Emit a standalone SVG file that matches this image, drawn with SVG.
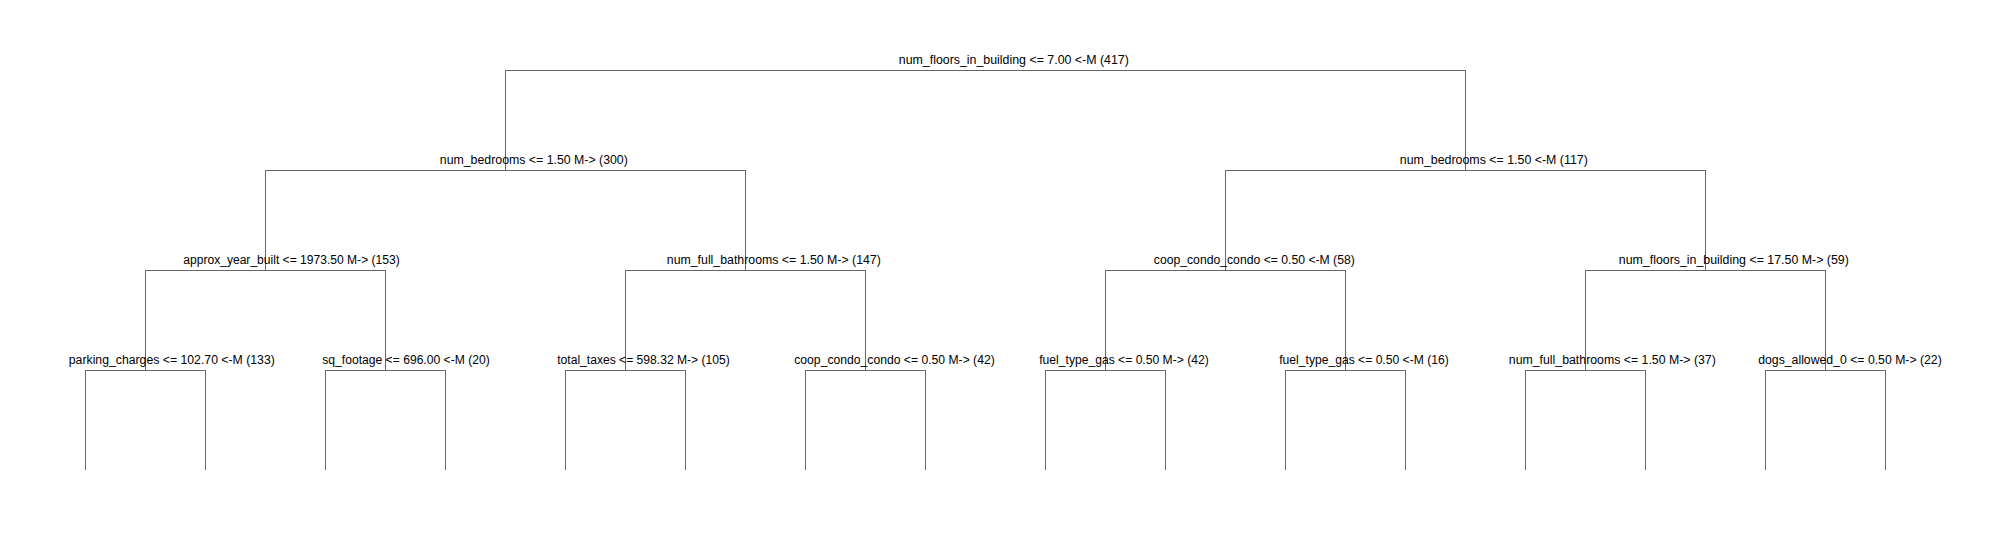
<svg xmlns="http://www.w3.org/2000/svg" width="2010" height="540" viewBox="0 0 2010 540">
<style>
.e{fill:none;stroke:#666666;stroke-width:1;shape-rendering:crispEdges}
.t{font-family:"Liberation Sans",Arial,sans-serif;font-size:12.3px;fill:#000000;text-anchor:middle}
</style>
<rect width="2010" height="540" fill="#ffffff"/>
<g id="connectors">
<path class="e" d="M505.5 170.5V70.5H1465.5V170.5"/>
<path class="e" d="M265.5 270.5V170.5H745.5V270.5"/>
<path class="e" d="M1225.5 270.5V170.5H1705.5V270.5"/>
<path class="e" d="M145.5 370.5V270.5H385.5V370.5"/>
<path class="e" d="M625.5 370.5V270.5H865.5V370.5"/>
<path class="e" d="M1105.5 370.5V270.5H1345.5V370.5"/>
<path class="e" d="M1585.5 370.5V270.5H1825.5V370.5"/>
<path class="e" d="M85.5 470V370.5H205.5V470"/>
<path class="e" d="M325.5 470V370.5H445.5V470"/>
<path class="e" d="M565.5 470V370.5H685.5V470"/>
<path class="e" d="M805.5 470V370.5H925.5V470"/>
<path class="e" d="M1045.5 470V370.5H1165.5V470"/>
<path class="e" d="M1285.5 470V370.5H1405.5V470"/>
<path class="e" d="M1525.5 470V370.5H1645.5V470"/>
<path class="e" d="M1765.5 470V370.5H1885.5V470"/>
</g>
<g id="n_root"><text class="t" x="1013.8" y="64" textLength="230" lengthAdjust="spacingAndGlyphs">num_floors_in_building &lt;= 7.00 &lt;-M (417)</text></g>
<g id="n_l"><text class="t" x="533.8" y="164" textLength="188" lengthAdjust="spacingAndGlyphs">num_bedrooms &lt;= 1.50 M-&gt; (300)</text></g>
<g id="n_r"><text class="t" x="1493.8" y="164" textLength="188" lengthAdjust="spacingAndGlyphs">num_bedrooms &lt;= 1.50 &lt;-M (117)</text></g>
<g id="n_ll"><text class="t" x="291.5" y="264" textLength="216.5" lengthAdjust="spacingAndGlyphs">approx_year_built &lt;= 1973.50 M-&gt; (153)</text></g>
<g id="n_lr"><text class="t" x="773.8" y="264" textLength="214" lengthAdjust="spacingAndGlyphs">num_full_bathrooms &lt;= 1.50 M-&gt; (147)</text></g>
<g id="n_rl"><text class="t" x="1254.3" y="264" textLength="201" lengthAdjust="spacingAndGlyphs">coop_condo_condo &lt;= 0.50 &lt;-M (58)</text></g>
<g id="n_rr"><text class="t" x="1733.8" y="264" textLength="230" lengthAdjust="spacingAndGlyphs">num_floors_in_building &lt;= 17.50 M-&gt; (59)</text></g>
<g id="n_lll"><text class="t" x="171.8" y="364" textLength="206" lengthAdjust="spacingAndGlyphs">parking_charges &lt;= 102.70 &lt;-M (133)</text></g>
<g id="n_llr"><text class="t" x="406" y="364" textLength="167.5" lengthAdjust="spacingAndGlyphs">sq_footage &lt;= 696.00 &lt;-M (20)</text></g>
<g id="n_lrl"><text class="t" x="643.5" y="364" textLength="172.5" lengthAdjust="spacingAndGlyphs">total_taxes &lt;= 598.32 M-&gt; (105)</text></g>
<g id="n_lrr"><text class="t" x="894.5" y="364" textLength="200.5" lengthAdjust="spacingAndGlyphs">coop_condo_condo &lt;= 0.50 M-&gt; (42)</text></g>
<g id="n_rll"><text class="t" x="1124" y="364" textLength="169.5" lengthAdjust="spacingAndGlyphs">fuel_type_gas &lt;= 0.50 M-&gt; (42)</text></g>
<g id="n_rlr"><text class="t" x="1364" y="364" textLength="169.5" lengthAdjust="spacingAndGlyphs">fuel_type_gas &lt;= 0.50 &lt;-M (16)</text></g>
<g id="n_rrl"><text class="t" x="1612.3" y="364" textLength="207" lengthAdjust="spacingAndGlyphs">num_full_bathrooms &lt;= 1.50 M-&gt; (37)</text></g>
<g id="n_rrr"><text class="t" x="1850" y="364" textLength="183.5" lengthAdjust="spacingAndGlyphs">dogs_allowed_0 &lt;= 0.50 M-&gt; (22)</text></g>
</svg>
